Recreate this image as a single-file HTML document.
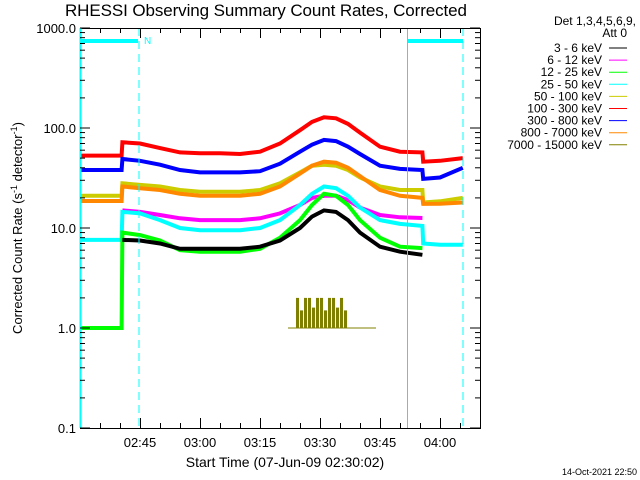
<!DOCTYPE html>
<html><head><meta charset="utf-8"><style>
html,body{margin:0;padding:0;background:#fff;}
svg{display:block;font-family:"Liberation Sans",sans-serif;}
</style></head><body>
<svg id="chart" width="640" height="480" viewBox="0 0 640 480">
<text x="266" y="16" font-size="17" text-anchor="middle" textLength="402">RHESSI Observing Summary Count Rates, Corrected</text>
<g id="plot"></g>
<g id="axes"></g>
<text x="285" y="467" font-size="14" text-anchor="middle">Start Time (07-Jun-09 02:30:02)</text>
<text transform="translate(22,228) rotate(-90)" font-size="13" text-anchor="middle">Corrected Count Rate (s<tspan font-size="9" dy="-5">-1</tspan><tspan dy="5"> detector</tspan><tspan font-size="9" dy="-5">-1</tspan><tspan dy="5">)</tspan></text>
<text x="637" y="475" font-size="9" text-anchor="end">14-Oct-2021 22:50</text>
<g id="legend">
<text x="636" y="25" font-size="12" text-anchor="end">Det 1,3,4,5,6,9,</text>
<text x="627" y="37" font-size="12" text-anchor="end">Att 0</text>
</g>
</svg>
<script>
const times  = [0,10.4,10.6,15,20,25,30,35,40,45,50,55,58,61,64,67,70,75,80,85.6,85.8,90,95.7];
const red    = [53,53,72,70,63,57,56,56,55,58,70,95,115,128,125,110,90,65,58,57,46,47,50];
const blue   = [38,38,49,47,43,38,36,36,36,37,44,58,68,76,74,65,55,42,39,38,31,32,40];
const orange = [18.6,18.6,26,25,24,22,21,21,21,22,26,35,42,46,45,40,33,24,21,20,17.4,17.5,18];
const yellow = [21,21,28,27,26,24,23,23,23,24,28,36,42,43,42,38,32,26,24,24,18,18.5,20];
const magenta= [null,null,15,14.5,13.5,12.5,12,12,12,12.5,14,17,20,21,21,19,16,13.5,12.8,12.6,null,null,null];
const cyan   = [7.6,7.6,14.5,14,12,10,9.5,9.5,9.5,10,12,17,22,26,25,21,16,12,11,10.5,7,6.8,6.8];
const green  = [1,1,9,8.5,7.5,6,5.8,5.8,5.8,6.2,8,12,17,22,21,17,12,8,6.5,6.3,null,null,null];
const black  = [null,null,7.6,7.5,7,6.2,6.2,6.2,6.2,6.5,7.5,10,13,15,14.5,12,9,6.5,5.8,5.4,null,null,null];
const oliveT = [54,55,56,57,58,59,60,61,62,63,64,65,66];
const oliveV = [2,1.5,2,2,1.6,2,2,1.5,2,2,1.6,2,1.5];
const yTicks = ["1000.0","100.0","10.0","1.0","0.1"];
const xTickLabels = ["02:45","03:00","03:15","03:30","03:45","04:00"];
const xTickMins = [15,30,45,60,75,90];
const legendLabels = ["3 - 6 keV","6 - 12 keV","12 - 25 keV","25 - 50 keV","50 - 100 keV","100 - 300 keV","300 - 800 keV","800 - 7000 keV","7000 - 15000 keV"];
const legendColors = ["#000","#ff00ff","#00ff00","#00ffff","#cccc00","#ff0000","#0000ff","#ff8800","#808000"];

const NS="http://www.w3.org/2000/svg";
const X0=80,X1=480,Y0=28,Y1=428;
function xs(t){return X0+4*t;}
function ys(v){return 328-100*Math.log10(v);}
function mk(tag,attrs,parent){const e=document.createElementNS(NS,tag);for(const k in attrs)e.setAttribute(k,attrs[k]);parent.appendChild(e);return e;}
const plot=document.getElementById('plot'),axes=document.getElementById('axes'),legend=document.getElementById('legend');

function series(vals,color,name,w){
  let d="",pen=false;
  for(let i=0;i<times.length;i++){
    if(vals[i]==null){pen=false;continue;}
    d+=(pen?"L":"M")+xs(times[i]).toFixed(1)+" "+ys(vals[i]).toFixed(1)+" ";pen=true;
  }
  const p=mk('path',{d:d,fill:'none',stroke:color,'stroke-width':w},plot);
  
  
}
series(red,"#ff0000","series-100-300kev",4);
series(blue,"#0000ff","series-300-800kev",4);
series(yellow,"#cccc00","series-50-100kev",4);
series(orange,"#ff8800","series-800-7000kev",4);
series(magenta,"#ff00ff","series-6-12kev",4);
series(cyan,"#00ffff","series-25-50kev",4);
series(green,"#00ff00","series-12-25kev",4);
series(black,"#000000","series-3-6kev",4);

for(let i=0;i<oliveT.length;i++){
  const r=mk('rect',{x:xs(oliveT[i]).toFixed(1),y:ys(oliveV[i]).toFixed(1),width:3,height:(ys(1)-ys(oliveV[i])).toFixed(1),fill:'#808000'},plot);
  
  
}
const ol=mk('line',{x1:xs(52),x2:xs(74),y1:ys(1),y2:ys(1),stroke:'#808000','stroke-width':1},plot);



const c1=mk('line',{x1:X0,x2:138,y1:41,y2:41,stroke:'#00ffff','stroke-width':4},plot);


const c2=mk('line',{x1:408,x2:463,y1:41,y2:41,stroke:'#00ffff','stroke-width':4},plot);


const d1=mk('line',{x1:139,x2:139,y1:Y0,y2:Y1,stroke:'#00ffff','stroke-dasharray':'8,5'},plot);


const d2=mk('line',{x1:463,x2:463,y1:Y0,y2:Y1,stroke:'#00ffff','stroke-dasharray':'8,5'},plot);


const g1=mk('line',{x1:407.5,x2:407.5,y1:Y0,y2:Y1,stroke:'#aaaaaa'},plot);


const nt=mk('text',{x:144,y:44,'font-size':10,fill:'#00ffff'},plot);nt.textContent='N';



const fr=mk('rect',{x:X0+.5,y:Y0+.5,width:X1-X0,height:Y1-Y0,fill:'none',stroke:'#000'},axes);


const cl=mk('line',{x1:80.5,x2:80.5,y1:Y0,y2:Y1,stroke:'#00ffff','stroke-width':2},axes);


for(let k=0;k<yTicks.length;k++){
  const v=Math.pow(10,3-k),y=ys(v);
  const t=mk('text',{x:76,y:y+5,'font-size':13,'text-anchor':'end'},axes);t.textContent=yTicks[k];
  
  
  mk('line',{x1:X0,x2:X0+10,y1:y,y2:y,stroke:'#000'},axes);
  mk('line',{x1:X1-10,x2:X1,y1:y,y2:y,stroke:'#000'},axes);
  if(k<4)for(let m=2;m<10;m++){const yy=ys(v/10*m);
    mk('line',{x1:X0,x2:X0+5,y1:yy,y2:yy,stroke:'#000'},axes);
    mk('line',{x1:X1-5,x2:X1,y1:yy,y2:yy,stroke:'#000'},axes);}
}
for(let t=5;t<100;t+=5){const x=xs(t)+.5,maj=t%15==0,L=maj?10:5;
  mk('line',{x1:x,x2:x,y1:Y1,y2:Y1-L,stroke:'#000'},axes);
  mk('line',{x1:x,x2:x,y1:Y0,y2:Y0+L,stroke:'#000'},axes);}
for(let i=0;i<xTickLabels.length;i++){
  const t=mk('text',{x:xs(xTickMins[i]),y:447,'font-size':13,'text-anchor':'middle'},axes);t.textContent=xTickLabels[i];
  
  
}
for(let i=0;i<legendLabels.length;i++){
  const y=48+i*12.1;
  const t=mk('text',{x:602,y:y+4,'font-size':12,'text-anchor':'end'},legend);t.textContent=legendLabels[i];
  
  
  const l=mk('line',{x1:609,x2:627,y1:y,y2:y,stroke:legendColors[i]},legend);
  
  
}
</script>
</body></html>
